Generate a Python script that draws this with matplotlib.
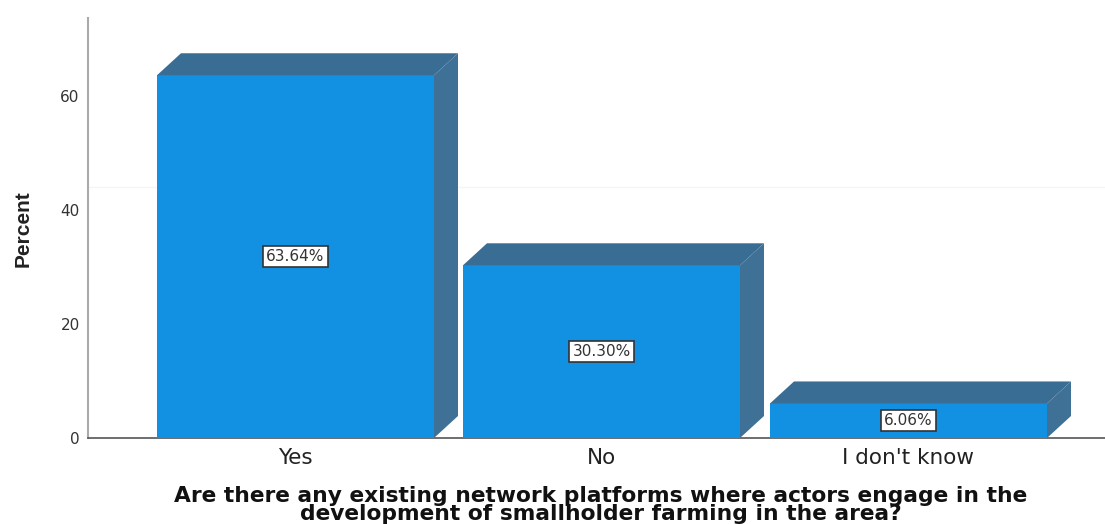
import matplotlib
matplotlib.use("Agg")
import matplotlib.pyplot as plt
from matplotlib.patches import Polygon

categories = ["Yes", "No", "I don't know"]
percents = [63.64, 30.30, 6.06]
point_labels = ["63.64%", "30.30%", "6.06%"]
y_ticks = [0, 20, 40, 60]
x_title = ("Are there any existing network platforms where actors engage in the\n"
           "development of smallholder farming in the area?")

front = "#1290e2"
top = "#3a6d94"
side = "#3f7096"

plt.rcParams["font.family"] = ["DejaVu Sans"]

fig = plt.figure(figsize=(11.05, 5.24), dpi=100)
ax = fig.add_axes([88 / 1105, 1 - 438 / 524, (1105 - 88) / 1105, (438 - 18) / 524])
ax.set_xlim(0, 1017)
ax.set_ylim(0, 420 * 60 / 342)

# depth of the 3d effect, pixels on x and data units on y
dx = 24
dy = 22 * 60 / 342
bar_w = 277
lefts = [69, 375, 682]

# faint scan marks of the old gridlines
ax.axhline(44, color="#f5f5f5", linewidth=1, zorder=1)

for left, val, lab in zip(lefts, percents, point_labels):
    ax.bar(left, val, width=bar_w, align="edge", color=front, edgecolor="none", zorder=3)
    ax.add_patch(Polygon([(left, val), (left + dx, val + dy), (left + bar_w + dx, val + dy), (left + bar_w, val)],
                         closed=True, facecolor=top, edgecolor="none", zorder=3))
    ax.add_patch(Polygon([(left + bar_w, 0), (left + bar_w + dx, dy), (left + bar_w + dx, val + dy), (left + bar_w, val)],
                         closed=True, facecolor=side, edgecolor="none", zorder=3))
    ax.text(left + bar_w / 2, val / 2, lab, ha="center", va="center", fontsize=11, color="#333333", zorder=4,
            bbox=dict(boxstyle="square,pad=0.2", facecolor="white", edgecolor="#333333", linewidth=1.2))

ax.set_xticks([left + bar_w / 2 for left in lefts])
ax.set_xticklabels(categories, fontsize=15.5, color="#222222")
ax.set_yticks(y_ticks)
ax.set_yticklabels([str(t) for t in y_ticks], fontsize=11, color="#333333")
ax.tick_params(axis="x", length=0, pad=7)
ax.tick_params(axis="y", length=0, pad=6)

for s in ["top", "right"]:
    ax.spines[s].set_visible(False)
ax.spines["left"].set_color("#aaaaaa")
ax.spines["left"].set_linewidth(1.5)
ax.spines["bottom"].set_color("#555555")
ax.spines["bottom"].set_linewidth(1.2)

fig.text(23 / 1105, 1 - 229 / 524, "Percent", rotation=90, ha="center", va="center", fontsize=15,
         fontweight="bold", color="#222222", family=["Liberation Sans Narrow", "Liberation Sans"])
fig.text(601 / 1105, 1 - 505 / 524, x_title, ha="center", va="center", fontsize=15.7, fontweight="bold",
         linespacing=0.85, color="#111111")

fig.savefig("out.png", dpi=100)
